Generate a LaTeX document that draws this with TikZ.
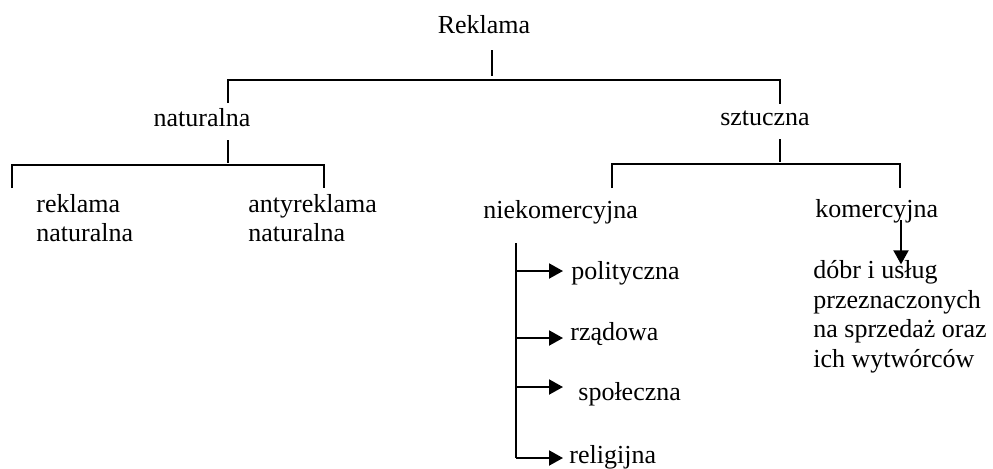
\documentclass[tikz,border=0pt]{standalone}
\usepackage{fontspec}
\setmainfont{Liberation Serif}
\usetikzlibrary{arrows.meta}

\tikzset{
  etykieta/.style={inner sep=0pt, font=\fontsize{13}{14.2}\selectfont, align=left},
  linia/.style={line width=1pt},
  strzalka/.style={line width=1pt, -{Triangle[length=7pt,width=7.5pt]}},
}

\begin{document}
\begin{tikzpicture}[x=0.5pt, y=-0.5pt]
    \useasboundingbox (0,0) rectangle (993,468);

    % etykiety (wiele linii: base = ostatnia linia)
    \node[etykieta, anchor=base] (rek) at (484,33) {Reklama};
    \node[etykieta, anchor=base] (nat) at (202,126) {naturalna};
    \node[etykieta, anchor=base] (szt) at (765,125) {sztuczna};
    \node[etykieta, anchor=base west] (rnat) at (36,241) {reklama\\naturalna};
    \node[etykieta, anchor=base west] (anat) at (248,241) {antyreklama\\naturalna};
    \node[etykieta, anchor=base west] (niek) at (483,218) {niekomercyjna};
    \node[etykieta, anchor=base west] (kom) at (815,217) {komercyjna};
    \node[etykieta, anchor=base west, font=\fontsize{13}{14.7}\selectfont] (dobr) at (813,367) {dóbr i usług\\przeznaczonych\\na sprzedaż oraz\\ich wytwórców};
    \node[etykieta, anchor=base west] (pol) at (571,279) {polityczna};
    \node[etykieta, anchor=base west] (rza) at (570,340) {rządowa};
    \node[etykieta, anchor=base west] (spo) at (578,400) {społeczna};
    \node[etykieta, anchor=base west] (rel) at (569,463) {religijna};

    % punkty drzewa
    \coordinate (s0a) at (492,50);  \coordinate (s0b) at (492,76);
    \coordinate (b1l) at (228,80);  \coordinate (b1r) at (780,80);
    \coordinate (n0)  at (228,103); \coordinate (z0)  at (780,104);
    \coordinate (s1a) at (228,140); \coordinate (s1b) at (228,163);
    \coordinate (b2l) at (12,165);  \coordinate (b2r) at (324,165);
    \coordinate (s2a) at (780,139); \coordinate (s2b) at (780,162);
    \coordinate (b3l) at (612,164); \coordinate (b3r) at (900,164);

    % Reklama -> naturalna / sztuczna
    \draw[linia] (s0a) -- (s0b);
    \draw[linia] (n0) -- (b1l) -- (b1r) -- (z0);

    % naturalna
    \draw[linia] (s1a) -- (s1b);
    \draw[linia] ([yshift=-11.5pt]b2l) -- (b2l) -- (b2r) -- ([yshift=-11.5pt]b2r);

    % sztuczna
    \draw[linia] (s2a) -- (s2b);
    \draw[linia] ([yshift=-12pt]b3l) -- (b3l) -- (b3r) -- ([yshift=-12pt]b3r);

    % niekomercyjna
    \coordinate (g0) at (516,243);
    \coordinate (tip) at (563,0);
    \foreach \n/\y in {1/271,2/338,3/387,4/458} {
        \coordinate (g\n) at (516,\y);
        \draw[strzalka] (g\n) -- (g\n -| tip);
    }
    \draw[linia] (g0) -- (g4);

    % komercyjna
    \coordinate (km1) at (901,220);
    \draw[strzalka] (km1) -- ([yshift=-2pt]km1 |- dobr.north);
\end{tikzpicture}
\end{document}
